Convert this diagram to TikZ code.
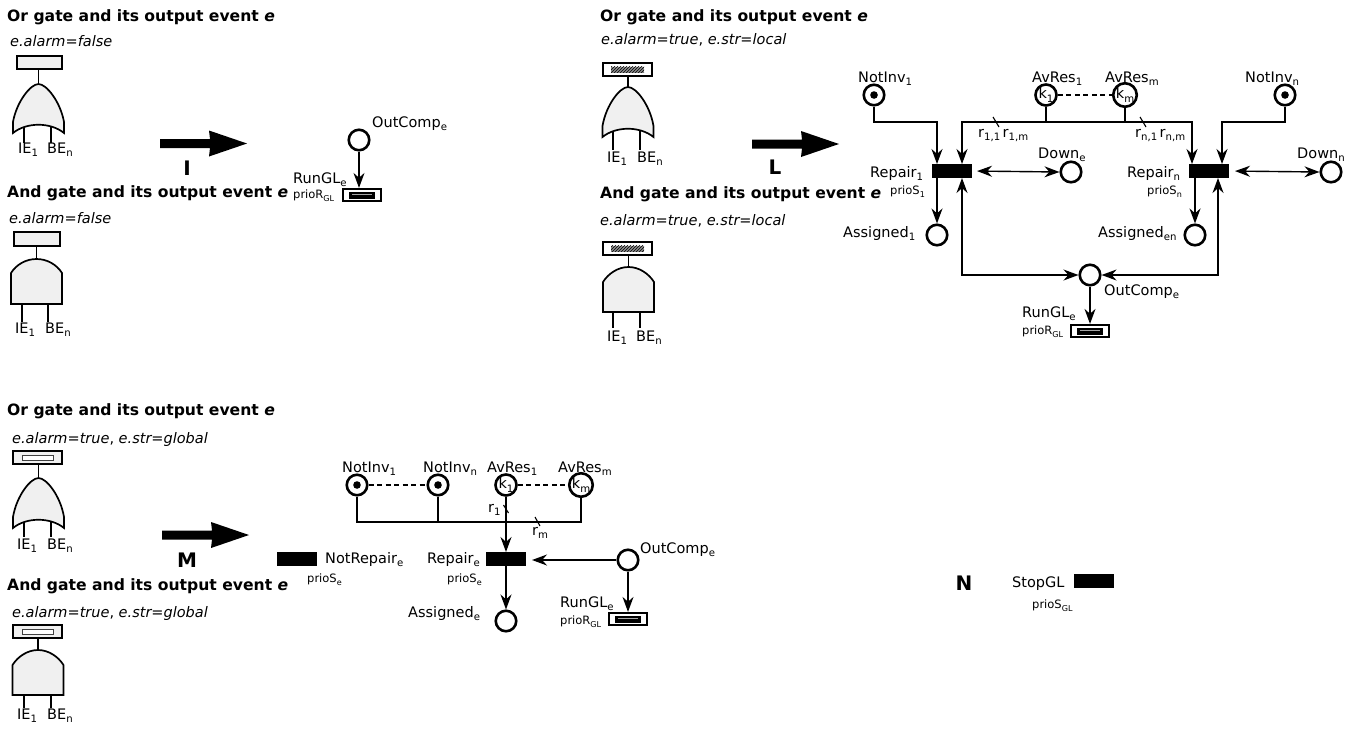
\documentclass[tikz,border=0pt]{standalone}
\usepackage{fontspec}
\setmainfont{DejaVu Sans}
\usetikzlibrary{arrows.meta,patterns}
\definecolor{gatebg}{HTML}{F0F0F0}
\makeatletter
\newcommand{\subx}[1]{\raisebox{-0.27em}{\fontsize{\fpeval{0.7*\f@size}}{1}\selectfont #1}}
\makeatother
% or gate: cx, apex y, bottom y
\newcommand{\orgate}[3]{%
  \draw[gatefill] ({#1-25.5},{#3-11}) .. controls ({#1-22},{#2+18}) and ({#1-8},{#2}) .. ({#1},{#2})
     .. controls ({#1+8},{#2}) and ({#1+22},{#2+18}) .. ({#1+25.5},{#3-11})
     -- ({#1+25.5},{#3}) .. controls ({#1+12},{#3-11}) and ({#1-12},{#3-11}) .. ({#1-25.5},{#3}) -- cycle;}
% and gate: cx, top y, side y, bottom y
\newcommand{\andgate}[4]{%
  \draw[gatefill] ({#1-25.5},{#4}) -- ({#1-25.5},{#3}) .. controls ({#1-20},{#3-8.7}) and ({#1-10.3},{#2}) .. ({#1},{#2})
     .. controls ({#1+10.3},{#2}) and ({#1+20},{#3-8.7}) .. ({#1+25.5},{#3}) -- ({#1+25.5},{#4}) -- cycle;}
% big arrow: left x, centre y
\newcommand{\bigarr}[2]{%
  \fill ({#1},{#2-4.5}) -- ({#1+50},{#2-4.5}) -- ({#1+49},{#2-13}) -- ({#1+87},{#2}) -- ({#1+49},{#2+13}) -- ({#1+50},{#2+4.5}) -- ({#1},{#2+4.5}) -- cycle;}
\begin{document}
\begin{tikzpicture}[x=1pt,y=-1pt,
  font=\fontsize{14.5}{17}\selectfont,
  ttl/.style={anchor=base west, inner sep=0pt, font=\fontsize{15.6}{18}\selectfont\bfseries},
  attr/.style={anchor=base west, inner sep=0pt},
  lbl/.style={anchor=base west, inner sep=0pt},
  small/.style={anchor=base west, inner sep=0pt, font=\fontsize{11.5}{13}\selectfont},
  big/.style={anchor=base, inner sep=0pt, font=\fontsize{20}{24}\selectfont\bfseries},
  place/.style={circle, draw, line width=2.6pt, minimum size=20.5pt, inner sep=0pt},
  tok/.style={place, path picture={\fill (path picture bounding box.center) circle (3.8pt);}},
  trans/.style={rectangle, draw, fill=black, line width=1pt, minimum width=39pt, minimum height=13pt, inner sep=0pt},
  runtr/.style={rectangle, draw, fill=white, line width=2.2pt, minimum width=38pt, minimum height=12pt, inner sep=0pt,
    path picture={\fill[black] ([xshift=-13pt,yshift=-3.5pt]path picture bounding box.center) rectangle ([xshift=13pt,yshift=3.5pt]path picture bounding box.center);
      \draw[black!35, line width=0.6pt] ([xshift=-10pt,yshift=1pt]path picture bounding box.center) -- ([xshift=10pt,yshift=1pt]path picture bounding box.center);}},
  arc/.style={line width=1.4pt, -{Stealth[length=15pt,width=11pt]}},
  arcb/.style={line width=1.4pt, {Stealth[length=15pt,width=11pt]}-{Stealth[length=15pt,width=11pt]}},
  ln/.style={line width=1.4pt},
  tick/.style={line width=1.1pt},
  dsh/.style={line width=1.3pt, dash pattern=on 5pt off 3.5pt},
  gatefill/.style={draw, fill=gatebg, line width=1.7pt},
  gaterect/.style={draw, fill=gatebg, line width=2.5pt},
  gatewhite/.style={draw, fill=white, line width=2.5pt},
]
\fill[white] (0,0) rectangle (1364,729);
\useasboundingbox (0,0) rectangle (1364,729);

% ================= Panel I =================
\node[ttl] (tI1) at (7,21) {Or gate and its output event \textit{e}};
\node[attr] (aI1) at (10,46) {\textit{e.alarm=false}};
\draw[ln] (38.5,69) -- (38.5,84);
\draw[ln] (24,122) -- (24,143);
\draw[ln] (51,122) -- (51,143);
\orgate{38.5}{84}{133}
\draw[gaterect] (17,56) rectangle (62,69);
\node[lbl] (iI1) at (18,153) {IE\subx{1}};
\node[lbl] (bI1) at (47,153) {BE\subx{n}};

\node[ttl] (tI2) at (7,197) {And gate and its output event \textit{e}};
\node[attr] (aI2) at (9,223) {\textit{e.alarm=false}};
\draw[ln] (36.5,246) -- (36.5,259);
\draw[ln] (22,300) -- (22,322);
\draw[ln] (48,300) -- (48,322);
\andgate{36.5}{259}{273}{304}
\draw[gaterect] (14,232) rectangle (60,246);
\node[lbl] (iI2) at (15,333) {IE\subx{1}};
\node[lbl] (bI2) at (45,333) {BE\subx{n}};

\bigarr{160}{143.5}
\node[big] (bI) at (187,175) {I};

\node[place] (OutI) at (359,140) {};
\node[lbl] (lOutI) at (372,127) {OutComp\subx{e}};
\node[runtr] (RunI) at (362,195) {};
\node[lbl] (lRunI) at (293,183) {RunGL\subx{e}};
\node[small] (pRunI) at (293,198) {prioR\subx{GL}};
\draw[arc] (OutI.south) -- (OutI.south |- RunI.north);

% ================= Panel L =================
\node[ttl] (tL1) at (600,21) {Or gate and its output event \textit{e}};
\node[attr] (aL1) at (601,44) {\textit{e.alarm=true}, \textit{e.str=local}};
\draw[ln] (628,76) -- (628,87);
\draw[ln] (613,126) -- (613,150);
\draw[ln] (640,126) -- (640,150);
\orgate{628}{87}{137}
\draw[gatewhite] (603,63) rectangle (652,76);
\fill[black!45] (611,66.5) rectangle (644,72.5);
\fill[pattern=north east lines, pattern color=black] (611,66.5) rectangle (644,72.5);
\node[lbl] (iL1) at (607,162) {IE\subx{1}};
\node[lbl] (bL1) at (637,162) {BE\subx{n}};

\node[ttl] (tL2) at (600,198) {And gate and its output event \textit{e}};
\node[attr] (aL2) at (600,225) {\textit{e.alarm=true}, \textit{e.str=local}};
\draw[ln] (628.5,255) -- (628.5,267);
\draw[ln] (613,308) -- (613,328);
\draw[ln] (640,308) -- (640,328);
\andgate{628.5}{267}{282}{312}
\draw[gatewhite] (603,242) rectangle (652,255);
\fill[black!45] (611,245.5) rectangle (644,251.5);
\fill[pattern=north east lines, pattern color=black] (611,245.5) rectangle (644,251.5);
\node[lbl] (iL2) at (607,341) {IE\subx{1}};
\node[lbl] (bL2) at (636,341) {BE\subx{n}};

\bigarr{752}{144}
\node[big] (bL) at (775,174) {L};

\coordinate (hL) at (0,122);
\node[tok] (NIa) at (874,95) {};
\node[lbl] (lNIa) at (858,82) {NotInv\subx{1}};
\node[place] (ARa) at (1046,95) {k\subx{1}};
\node[lbl] (lARa) at (1032,82) {AvRes\subx{1}};
\node[place] (ARb) at (1125,95) {k\subx{m}};
\node[lbl] (lARb) at (1105,82) {AvRes\subx{m}};
\node[tok] (NIb) at (1285,95) {};
\node[lbl] (lNIb) at (1245,82) {NotInv\subx{n}};
\draw[dsh] (ARa.east) -- (ARb.west);

\node[trans] (Rep1) at (952,171) {};
\node[lbl] (lRep1) at (870,177) {Repair\subx{1}};
\node[small] (pRep1) at (890,194) {prioS\subx{1}};
\node[trans] (Repn) at (1209,171) {};
\node[lbl] (lRepn) at (1127,177) {Repair\subx{n}};
\node[small] (pRepn) at (1147,194) {prioS\subx{n}};

\node[place] (De) at (1071,172) {};
\node[lbl] (lDe) at (1038,158) {Down\subx{e}};
\node[place] (Dn) at (1331,172) {};
\node[lbl] (lDn) at (1297,158) {Down\subx{n}};
\node[place] (As1) at (937,235) {};
\node[lbl] (lAs1) at (843,237) {Assigned\subx{1}};
\node[place] (Asn) at (1195,235) {};
\node[lbl] (lAsn) at (1098,237) {Assigned\subx{en}};
\node[place] (OutL) at (1090,275) {};
\node[lbl] (lOutL) at (1104,295) {OutComp\subx{e}};
\node[runtr] (RunL) at (1090,331) {};
\node[lbl] (lRunL) at (1022,317) {RunGL\subx{e}};
\node[small] (pRunL) at (1022,334) {prioR\subx{GL}};

\draw[arc] (NIa.south) -- (NIa.south |- hL) -| ([xshift=-15pt]Rep1.north);
\draw[ln] (ARa.south) -- (ARa.south |- hL);
\draw[ln] (ARb.south) -- (ARb.south |- hL);
\draw[arcb] ([xshift=10pt]Rep1.north) |- ([xshift=-17pt]Repn.north |- hL) -- ([xshift=-17pt]Repn.north);
\draw[arc] (NIb.south) -- (NIb.south |- hL) -| ([xshift=13pt]Repn.north);
\draw[tick] (993,117) -- (999,127);
\draw[tick] (1140,117) -- (1146,127);
\node[lbl] (r11) at (978,137) {r\subx{1,1}\,r\subx{1,m}};
\node[lbl] (rn1) at (1135,137) {r\subx{n,1}\,r\subx{n,m}};
\draw[arcb, shorten <=5pt] (Rep1.east) -- (De.west);
\draw[arcb, shorten <=6pt] (Repn.east) -- (Dn.west);
\draw[arc] (Rep1.south -| As1) -- (As1.north);
\draw[arc] (Repn.south -| Asn) -- (Asn.north);
\draw[arcb] ([xshift=10pt]Rep1.south) |- (OutL.west);
\draw[arcb] ([xshift=9pt]Repn.south) |- (OutL.east);
\draw[arc] (OutL.south) -- (RunL.north);

% ================= Panel M =================
\node[ttl] (tM1) at (7,415) {Or gate and its output event \textit{e}};
\node[attr] (aM1) at (12,443) {\textit{e.alarm=true}, \textit{e.str=global}};
\draw[ln] (38.5,464) -- (38.5,478);
\draw[ln] (24,517) -- (24,537);
\draw[ln] (51,517) -- (51,537);
\orgate{38.5}{478}{528}
\draw[gaterect] (13,451) rectangle (62,464);
\draw[fill=white, draw=black!75, line width=0.8pt] (22,455) rectangle (53,460.5);
\node[lbl] (iM1) at (17,549) {IE\subx{1}};
\node[lbl] (bM1) at (47,549) {BE\subx{n}};

\node[ttl] (tM2) at (7,590) {And gate and its output event \textit{e}};
\node[attr] (aM2) at (12,617) {\textit{e.alarm=true}, \textit{e.str=global}};
\draw[ln] (38,638) -- (38,650);
\draw[ln] (24,690) -- (24,708);
\draw[ln] (51,690) -- (51,708);
\andgate{38}{650}{665}{695}
\draw[gaterect] (13,625) rectangle (62,638);
\draw[fill=white, draw=black!75, line width=0.8pt] (22,629) rectangle (53,634.5);
\node[lbl] (iM2) at (17,719) {IE\subx{1}};
\node[lbl] (bM2) at (47,719) {BE\subx{n}};

\bigarr{162}{535}
\node[big] (bM) at (187,567) {M};

\coordinate (hM) at (0,522);
\node[trans] (NotRep) at (297,559) {};
\node[lbl] (lNotRep) at (325,563) {NotRepair\subx{e}};
\node[small] (pNotRep) at (307,582) {prioS\subx{e}};

\node[tok] (NIm1) at (357,485) {};
\node[lbl] (lNIm1) at (342,472) {NotInv\subx{1}};
\node[tok] (NImn) at (438,485) {};
\node[lbl] (lNImn) at (423,472) {NotInv\subx{n}};
\node[place] (ARm1) at (506,485) {k\subx{1}};
\node[lbl] (lARm1) at (487,472) {AvRes\subx{1}};
\node[place] (ARmm) at (581,485) {k\subx{m}};
\node[lbl] (lARmm) at (558,472) {AvRes\subx{m}};
\draw[dsh] (NIm1.east) -- (NImn.west);
\draw[dsh] (ARm1.east) -- (ARmm.west);

\node[trans] (RepM) at (506,559) {};
\node[lbl] (lRepM) at (427,563) {Repair\subx{e}};
\node[small] (pRepM) at (447,582) {prioS\subx{e}};
\node[place] (AsM) at (506,621) {};
\node[lbl] (lAsM) at (408,617) {Assigned\subx{e}};
\node[place] (OutM) at (628,560) {};
\node[lbl] (lOutM) at (640,553) {OutComp\subx{e}};
\node[runtr] (RunM) at (628,619) {};
\node[lbl] (lRunM) at (560,607) {RunGL\subx{e}};
\node[small] (pRunM) at (560,624) {prioR\subx{GL}};

\draw[ln] (NIm1.south) -- (NIm1.south |- hM) -- (ARmm.south |- hM) -- (ARmm.south);
\draw[ln] (NImn.south) -- (NImn.south |- hM);
\draw[arc] (ARm1.south) -- (RepM.north);
\draw[tick] (503.5,505) -- (508.5,513);
\draw[tick] (535,517) -- (540,526);
\node[lbl] (r1m) at (488,512) {r\subx{1}};
\node[lbl] (rmm) at (532,535) {r\subx{m}};
\draw[arc, shorten >=6pt] (OutM.west) -- (OutM.west -| RepM.east);
\draw[arc] (OutM.south) -- (RunM.north);
\draw[arc] (RepM.south) -- (AsM.north);

% ================= Panel N =================
\node[big] (bN) at (964,590) {N};
\node[trans] (Stop) at (1094,581) {};
\node[lbl] (lStop) at (1012,587) {StopGL};
\node[small] (pStop) at (1032,608) {prioS\subx{GL}};
\end{tikzpicture}
\end{document}
